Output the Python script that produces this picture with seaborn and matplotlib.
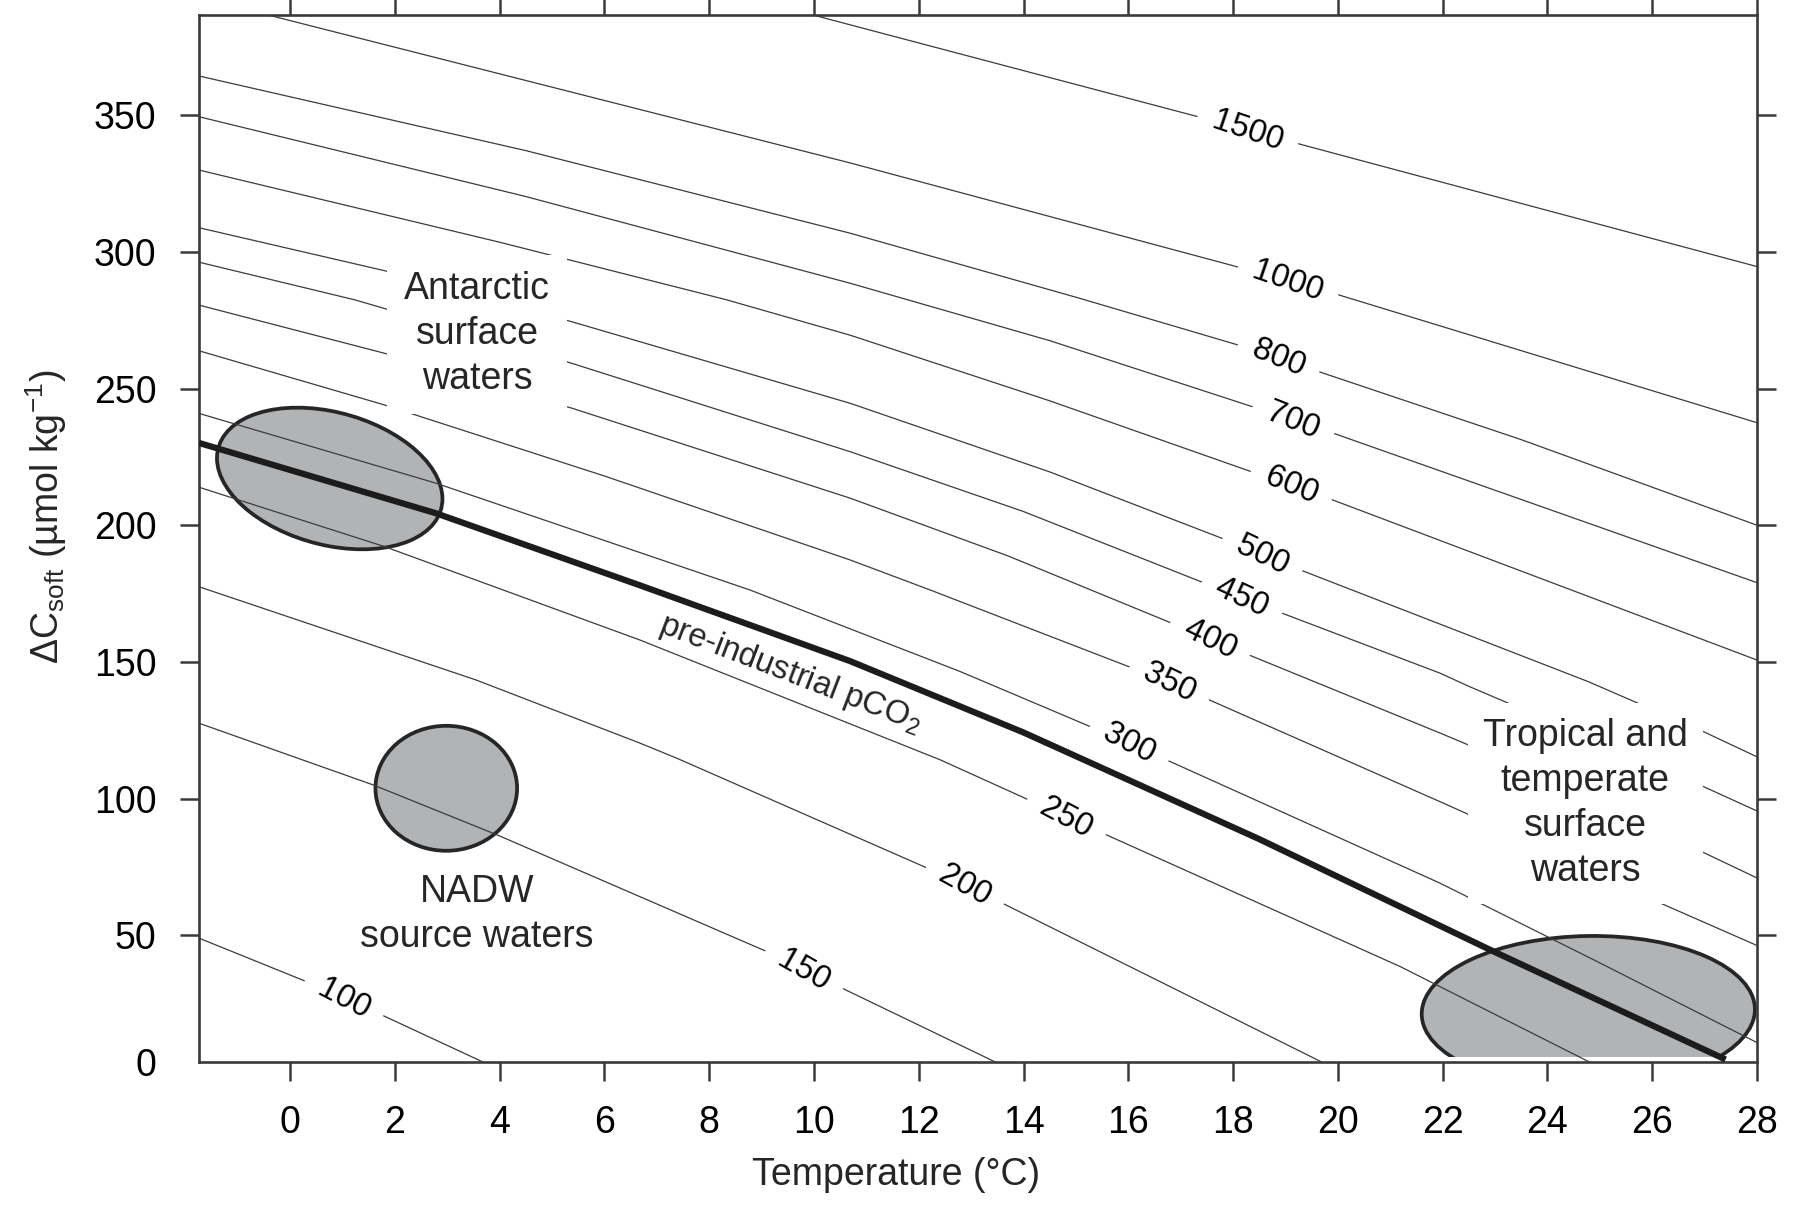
import numpy as np
import pandas as pd
import matplotlib
matplotlib.use("Agg")
import matplotlib.pyplot as plt
import matplotlib.transforms as mtransforms
from matplotlib.patches import Circle, Rectangle
import seaborn as sns

# ---------------- data ----------------
LEVELS = [1500, 1000, 800, 700, 600, 500, 450, 400, 350, 300, 250, 200, 150, 100]

T_1500 = [9.98, 17.33, 19.23, 28.0]
C_1500 = [386.6, 349.4, 339.6, 294.6]
T_1000 = [-0.42, 10.69, 18.08, 19.92, 28.0]
C_1000 = [386.6, 332.5, 294.5, 284.8, 237.5]
T_800 = [-1.74, 4.5, 10.69, 15.07, 18.31, 23.5, 28.0]
C_800 = [364.3, 337.0, 306.8, 283.0, 264.7, 231.3, 200.0]
T_700 = [-1.74, 4.48, 10.69, 14.5, 18.36, 19.92, 28.0]
C_700 = [349.4, 320.3, 288.5, 267.5, 243.4, 233.6, 179.0]
T_600 = [-1.74, 4.0, 8.32, 10.69, 14.5, 18.36, 19.81, 28.0]
C_600 = [329.9, 303.5, 282.5, 269.5, 245.5, 219.5, 209.9, 150.7]
T_500 = [-1.74, 1.8, 5.38, 10.69, 14.5, 17.79, 19.29, 24.78, 26.98, 28.0]
C_500 = [308.8, 293.1, 274.4, 244.6, 219.5, 195.2, 183.6, 142.8, 124.5, 115.3]
T_450 = [-1.74, 1.24, 5.38, 10.69, 14.0, 17.38, 18.94, 21.95, 22.51, 26.98, 28.0]
C_450 = [296.2, 282.4, 259.2, 226.9, 205.0, 179.4, 167.8, 145.9, 141.0, 104.4, 95.5]
T_400 = [-1.74, 1.8, 5.38, 10.69, 13.7, 16.75, 18.31, 21.95, 22.51, 26.98, 28.0]
C_400 = [280.5, 262.9, 242.8, 209.9, 188.8, 164.8, 152.5, 124.0, 119.5, 80.3, 71.0]
T_350 = [-1.74, 1.8, 6.0, 10.69, 12.22, 16.79, 21.95, 22.51, 25.8, 28.0]
C_350 = [263.8, 244.0, 218.0, 187.3, 176.3, 142.5, 98.9, 94.1, 64.8, 46.3]
T_300 = [-1.74, 2.78, 8.78, 12.79, 16.02, 21.95, 24.88, 28.0]
C_300 = [240.9, 215.4, 176.3, 146.5, 120.3, 69.1, 41.1, 10.8]
T_250 = [-1.74, 1.8, 6.68, 12.41, 14.82, 21.19, 24.8]
C_250 = [213.9, 192.2, 158.0, 114.2, 93.3, 38.6, 3.7]
T_200 = [-1.74, 3.55, 6.68, 7.38, 12.89, 19.69]
C_200 = [177.5, 143.4, 120.3, 114.8, 68.5, 3.7]
T_150 = [-1.74, 1.59, 3.97, 9.17, 9.81, 13.46]
C_150 = [127.6, 105.0, 86.6, 43.5, 37.4, 3.7]
T_100 = [-1.74, 0.31, 1.03, 1.67, 3.68]
C_100 = [49.0, 33.1, 27.1, 21.6, 3.7]

T_LINES = [T_1500, T_1000, T_800, T_700, T_600, T_500, T_450, T_400,
           T_350, T_300, T_250, T_200, T_150, T_100]
C_LINES = [C_1500, C_1000, C_800, C_700, C_600, C_500, C_450, C_400,
           C_350, C_300, C_250, C_200, C_150, C_100]

# temperature at which each contour label sits
LABEL_T = [18.28, 19.05, 18.87, 19.15, 19.11, 18.56, 18.17, 17.56,
           16.79, 16.02, 14.82, 12.89, 9.81, 1.03]

# pre-industrial pCO2 line
T_PRE = [-1.74, 2.78, 6.68, 10.69, 14.0, 18.5, 22.92, 27.4]
C_PRE = [230.1, 204.4, 178.0, 150.3, 124.2, 85.2, 44.6, 4.6]

# water masses: centre T, centre dC, half T-range, half dC-range, tilt (cos phi)
WM_NAMES = ["Antarctic", "NADW", "Tropical"]
WM_T = [0.755, 2.98, 24.78]
WM_C = [217.1, 103.8, 22.1]
WM_DT = [2.152, 1.352, 3.18]
WM_DC = [25.9, 22.85, 27.7]
WM_TILT = [-0.288, 0.0, 0.03]

XTICKS = list(range(0, 29, 2))
YTICK_VALUES = [0, 50, 100, 150, 200, 250, 300, 350]

X_MIN, X_MAX = -1.74, 28.0
Y_MIN, Y_MAX = 3.7, 386.6

# ---------------- style ----------------
sns.set_theme(style="ticks")
plt.rcParams["font.family"] = ["Liberation Sans", "DejaVu Sans"]
plt.rcParams["mathtext.fontset"] = "custom"
plt.rcParams["mathtext.rm"] = "Liberation Sans"
plt.rcParams["mathtext.it"] = "Liberation Sans:italic"
plt.rcParams["mathtext.bf"] = "Liberation Sans:bold"

FS = 27
FS_LAB = 23.5
LSP = 1.32
SPINE_C = "#3a3a3a"
LABEL_EXTRA_TILT = -3.5

fig = plt.figure(figsize=(17.98, 12.08), dpi=100)
ax = fig.add_axes([0.11068, 0.12086, 0.86652, 0.86672])
ax.set_xlim(X_MIN, X_MAX)
ax.set_ylim(Y_MIN, Y_MAX)

# ---------------- contour lines ----------------
rows = []
for lvl, ts, cs in zip(LEVELS, T_LINES, C_LINES):
    for t, c in zip(ts, cs):
        rows.append((lvl, t, c))
df = pd.DataFrame(rows, columns=["level", "T", "dC"])
sns.lineplot(data=df, x="T", y="dC", units="level", estimator=None, sort=False,
             color="#3c3c3c", linewidth=0.9, ax=ax, legend=False, zorder=3)

pre = pd.DataFrame({"T": T_PRE, "dC": C_PRE})
sns.lineplot(data=pre, x="T", y="dC", estimator=None, sort=False, color="#1c1c1c",
             linewidth=4.5, ax=ax, legend=False, zorder=4, solid_capstyle="butt",
             solid_joinstyle="round")

# ---------------- water-mass ellipses ----------------
for name, cx, cy, dt, dc, cphi in zip(WM_NAMES, WM_T, WM_C, WM_DT, WM_DC, WM_TILT):
    sphi = np.sqrt(1.0 - cphi ** 2)
    aff = mtransforms.Affine2D(np.array([[dt, 0.0, cx],
                                         [dc * cphi, dc * sphi, cy],
                                         [0.0, 0.0, 1.0]]))
    circ = Circle((0, 0), 1.0, transform=aff + ax.transData, facecolor="#b2b3b5",
                  edgecolor="#262626", linewidth=2.7, zorder=2)
    ax.add_patch(circ)
    if name == "Tropical":
        clip = Rectangle((X_MIN - 5, 5.5), 50, 600, transform=ax.transData)
        circ.set_clip_path(clip)

# ---------------- contour labels ----------------
for lvl, tl, ts, cs in zip(LEVELS, LABEL_T, T_LINES, C_LINES):
    yl = np.interp(tl, ts, cs)
    p = ax.transData.transform([[tl - 0.5, np.interp(tl - 0.5, ts, cs)],
                                [tl + 0.5, np.interp(tl + 0.5, ts, cs)]])
    ang = np.degrees(np.arctan2(p[1, 1] - p[0, 1], p[1, 0] - p[0, 0])) + LABEL_EXTRA_TILT
    ax.text(tl, yl, f" {lvl} ", rotation=ang, rotation_mode="anchor",
            ha="center", va="center", fontsize=FS_LAB, color="black",
            bbox=dict(boxstyle="square,pad=0.2", fc="white", ec="none"), zorder=5)

# ---------------- annotations ----------------
ax.text(3.57, 269.8, "Antarctic\nsurface\nwaters", ha="center", va="center",
        fontsize=FS, linespacing=LSP,
        bbox=dict(boxstyle="square,pad=0.45", fc="white", ec="none"), zorder=5)
ax.text(24.72, 98.3, "Tropical and\ntemperate\nsurface\nwaters", ha="center",
        va="center", fontsize=FS, linespacing=LSP,
        bbox=dict(boxstyle="square,pad=0.4", fc="white", ec="none"), zorder=5)
ax.text(3.56, 57.5, "NADW\nsource waters", ha="center", va="center",
        fontsize=FS, linespacing=LSP, zorder=5)
ax.text(9.54, 145.9, "pre-industrial pCO$_2$", rotation=-21, rotation_mode="anchor",
        ha="center", va="center", fontsize=FS_LAB, zorder=5)

# ---------------- axes ----------------
ax.set_xticks(XTICKS)
ax.set_xticklabels([str(v) for v in XTICKS])
ypos = [Y_MIN if v == 0 else v for v in YTICK_VALUES]
ax.set_yticks(ypos)
ax.set_yticklabels([str(v) for v in YTICK_VALUES])
ax.tick_params(direction="out", length=13.7, width=1.8, colors=SPINE_C,
               labelcolor="black", labelsize=FS, top=True, right=True,
               labeltop=False, labelright=False)
ax.tick_params(axis="x", pad=17.5)
ax.tick_params(axis="y", pad=17)
yt = ax.yaxis.get_major_ticks()
yt[0].tick1line.set_visible(False)
yt[0].tick2line.set_visible(False)

for s in ax.spines.values():
    s.set_linewidth(1.9)
    s.set_color(SPINE_C)
ax.grid(False)
ax.set_facecolor("white")

ax.set_xlabel("Temperature (°C)", fontsize=FS)
ax.set_ylabel("ΔC$_{\\mathrm{soft}}$ (µmol kg$^{\\mathrm{-1}}$)", fontsize=FS)
ax.xaxis.set_label_coords(0.4474, -0.0908)
ax.yaxis.set_label_coords(-0.0835, 0.5208)

fig.savefig("out.png", dpi=100, facecolor="white")
